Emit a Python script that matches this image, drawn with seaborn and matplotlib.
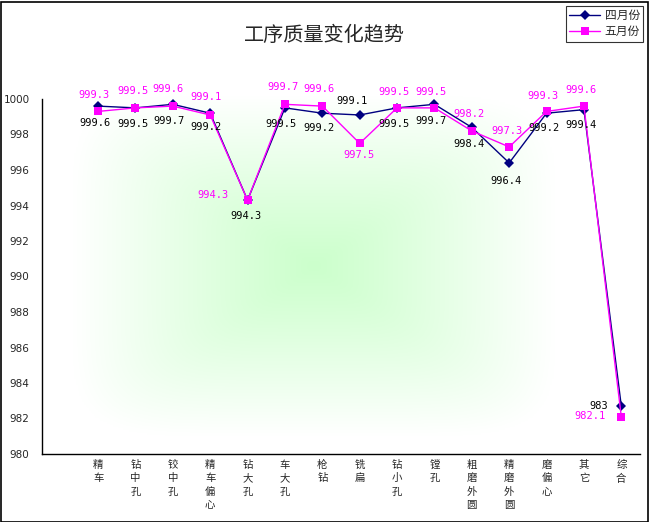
import numpy as np
import pandas as pd
import matplotlib
matplotlib.use("Agg")
import matplotlib.pyplot as plt
import seaborn as sns
from matplotlib.lines import Line2D
from matplotlib.patches import Rectangle
from matplotlib.ticker import FixedLocator

categories = ["精车", "钻中孔", "铰中孔", "精车偏心", "钻大孔", "车大孔", "枪钻", "铣扁",
              "钻小孔", "镗孔", "粗磨外圆", "精磨外圆", "磨偏心", "其它", "综合"]
april = [999.6, 999.5, 999.7, 999.2, 994.3, 999.5, 999.2, 999.1, 999.5, 999.7, 998.4, 996.4, 999.2, 999.4, 982.7]
may = [999.3, 999.5, 999.6, 999.1, 994.3, 999.7, 999.6, 997.5, 999.5, 999.5, 998.2, 997.3, 999.3, 999.6, 982.1]
april_labels = ["999.6", "999.5", "999.7", "999.2", "994.3", "999.5", "999.2", "999.1",
                "999.5", "999.7", "998.4", "996.4", "999.2", "999.4", "983"]
may_labels = [f"{v:.1f}" for v in may]
series = ["四月份", "五月份"]

# label offsets in pixels (dx, dy)
april_off = [(-3, -17), (-2, -16), (-4, -17), (-4, -14), (-2, -16), (-4, -16), (-3, -15), (-8, 14),
             (-3, -16), (-3, -17), (-3, -17), (-3, -18), (-3, -15), (-3, -15), (-23, 0)]
may_off = [(-4, 16), (-2, 17), (-5, 17), (-4, 18), (-35, 5), (-2, 17), (-3, 17), (-1, -12),
           (-3, 16), (-3, 16), (-3, 17), (-2, 16), (-4, 15), (-3, 16), (-31, 1)]

df = pd.DataFrame({
    "pos": list(range(len(categories))) * 2,
    "value": april + may,
    "month": [series[0]] * len(april) + [series[1]] * len(may),
})

sns.set_style("white")
plt.rcParams["font.family"] = ["DejaVu Sans", "Noto Sans CJK SC"]

W, H = 649, 522
fig = plt.figure(figsize=(W / 100, H / 100), dpi=100)

# gradient background of plot area (from centre, roughly rectangular)
gx0, gx1, gy0, gy1 = 72, 556, 95, 437
bg = fig.add_axes([gx0 / W, 1 - gy1 / H, (gx1 - gx0) / W, (gy1 - gy0) / H], zorder=0)
u = np.linspace(-1, 1, 300)
vv = np.linspace(-1, 1, 220)
U, V = np.meshgrid(u, vv)
t = np.clip((np.abs(U) ** 6 + np.abs(V) ** 6) ** (1 / 6), 0, 1)
green = np.array([204, 255, 204]) / 255
img = green[None, None, :] + (1 - green)[None, None, :] * t[..., None] ** 1.1
bg.imshow(img, aspect="auto", extent=(0, 1, 0, 1))
bg.axis("off")

ax = fig.add_axes([42 / W, 1 - 454 / H, 598 / W, 355 / H], zorder=1)
ax.patch.set_alpha(0)

pal = {"四月份": "#000080", "五月份": "#FF00FF"}
sns.lineplot(data=df, x="pos", y="value", hue="month", style="month", hue_order=series,
             style_order=series, markers={"四月份": "D", "五月份": "s"}, dashes=False,
             palette=pal, linewidth=1, markersize=5.5, markeredgewidth=0,
             sort=False, legend=False, ax=ax)

for i in range(len(categories)):
    ax.annotate(april_labels[i], (i, april[i]), xytext=april_off[i], textcoords="offset pixels",
                ha="center", va="center", fontsize=7.5, family="DejaVu Sans Mono", color="black")
    ax.annotate(may_labels[i], (i, may[i]), xytext=may_off[i], textcoords="offset pixels",
                ha="center", va="center", fontsize=7.5, family="DejaVu Sans Mono", color="#FF00FF")

ax.set_xlim(-1.5, len(categories) - 0.5)
ax.set_ylim(980, 1000)
ax.set_yticks(np.arange(980, 1001, 2))
ax.set_xticks(range(len(categories)))
ax.set_xticklabels(["\n".join(c) for c in categories], va="top", linespacing=1.45)
ax.xaxis.set_minor_locator(FixedLocator(np.arange(-1.5, len(categories), 1)))
ax.tick_params(axis="x", which="major", length=0, labelsize=7.5, pad=4)
ax.tick_params(axis="x", which="minor", direction="in", length=3, width=0.8, color="black")
ax.tick_params(axis="y", direction="in", length=4, width=0.8, color="black", labelsize=7.5, pad=9)
ax.set_xlabel("")
ax.set_ylabel("")
for s in ["top", "right"]:
    ax.spines[s].set_visible(False)
for s in ["left", "bottom"]:
    ax.spines[s].set_color("black")
    ax.spines[s].set_linewidth(1)

fig.text(324 / W, 1 - 35 / H, "工序质量变化趋势", ha="center", va="center", fontsize=14.5)

handles = [Line2D([], [], color=pal[s], marker=m, markersize=5.5, markeredgewidth=0, linewidth=1)
           for s, m in zip(series, ["D", "s"])]
leg = fig.legend(handles, series, loc="upper right", bbox_to_anchor=(647 / W, 1 - 2 / H),
                 fontsize=8.5, frameon=True, fancybox=False, handlelength=2.6,
                 borderpad=0.3, labelspacing=0.25, handletextpad=0.4, borderaxespad=0.3)
leg.get_frame().set_edgecolor("black")
leg.get_frame().set_linewidth(0.8)

fig.patches.append(Rectangle((0.5 / W, 0.5 / H), 1 - 2 / W, 1 - 2 / H, transform=fig.transFigure,
                             fill=False, edgecolor="black", linewidth=1.2))

fig.savefig("out.png", dpi=100)
